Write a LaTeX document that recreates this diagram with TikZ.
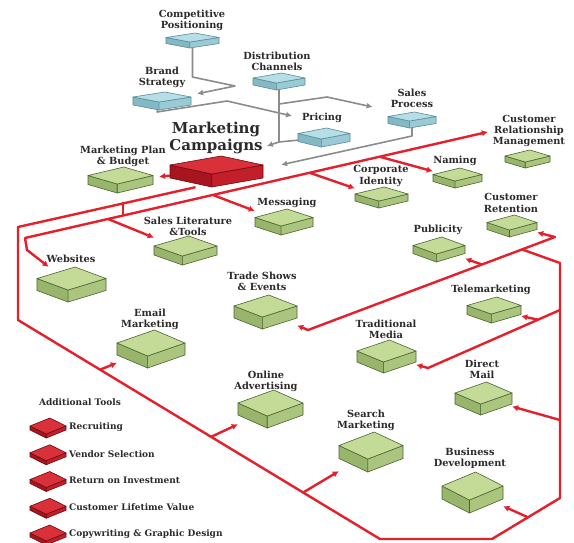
\documentclass[tikz,border=0pt]{standalone}
\usepackage{fontspec}
\setmainfont{DejaVu Serif}
\usetikzlibrary{arrows.meta}

\definecolor{linered}{HTML}{E3202B}
\definecolor{linegray}{HTML}{8C8C8C}
\definecolor{labelgray}{HTML}{2B2B2B}
\definecolor{greentopc}{HTML}{C4DB98}
\definecolor{greenfrontc}{HTML}{ABC57E}
\definecolor{greensidec}{HTML}{98B56B}
\definecolor{greenedge}{HTML}{4A6632}
\definecolor{bluetopc}{HTML}{B5DEE7}
\definecolor{bluefrontc}{HTML}{99CAD6}
\definecolor{bluesidec}{HTML}{84B8C5}
\definecolor{blueedge}{HTML}{5B8C97}
\definecolor{redtopc}{HTML}{D9303A}
\definecolor{redfrontc}{HTML}{C21F2A}
\definecolor{redsidec}{HTML}{A8151F}
\definecolor{rededge}{HTML}{6E0C12}

\tikzset{
  greentop/.style={fill=greentopc, draw=greenedge, line width=0.6pt, line join=round},
  greenfront/.style={fill=greenfrontc, draw=greenedge, line width=0.6pt, line join=round},
  greenside/.style={fill=greensidec, draw=greenedge, line width=0.6pt, line join=round},
  bluetop/.style={fill=bluetopc, draw=blueedge, line width=0.6pt, line join=round},
  bluefront/.style={fill=bluefrontc, draw=blueedge, line width=0.6pt, line join=round},
  blueside/.style={fill=bluesidec, draw=blueedge, line width=0.6pt, line join=round},
  redtop/.style={fill=redtopc, draw=rededge, line width=0.6pt, line join=round},
  redfront/.style={fill=redfrontc, draw=rededge, line width=0.6pt, line join=round},
  redside/.style={fill=redsidec, draw=rededge, line width=0.6pt, line join=round},
  lbl/.style={text=labelgray, align=center, inner sep=1pt},
  toollbl/.style={text=labelgray, inner sep=1pt, font=\bfseries\fontsize{9}{10}\selectfont},
  redline/.style={draw=linered, line width=2.4pt, line join=round},
  redarrow/.style={redline, -{Latex[length=6pt,width=6.5pt]}},
  grayline/.style={draw=linegray, line width=1.6pt, line join=round},
  grayarrow/.style={grayline, -{Latex[length=6pt,width=6pt]}}
}

% slab: name, top-left corner, width, top face depth, thickness, colour
\newcommand\slabbox[6]{%
  \begin{scope}[shift={(#2)}]
    \filldraw[#6side] (0,#4/2) -- (0.45*#3,#4) -- (0.45*#3,#4+#5) -- (0,#4/2+#5) -- cycle;
    \filldraw[#6front] (0.45*#3,#4) -- (#3,#4/2) -- (#3,#4/2+#5) -- (0.45*#3,#4+#5) -- cycle;
    \filldraw[#6top] (0,#4/2) -- (0.55*#3,0) -- (#3,#4/2) -- (0.45*#3,#4) -- cycle;
    \node[inner sep=0, minimum width=#3, minimum height=#4+#5] (#1) at (#3/2,{(#4+#5)/2}) {};
  \end{scope}%
}

\begin{document}
\begin{tikzpicture}[x=1pt, y=-1pt, font=\bfseries\fontsize{9.8}{11.2}\selectfont]
  \fill[white] (0,0) rectangle (574,542);
  \useasboundingbox (0,0) rectangle (574,542);

  % strategy boxes
  \slabbox{comp}{166,33}{53}{9}{6}{blue}
  \slabbox{brand}{133,92}{58}{10}{8}{blue}
  \slabbox{dist}{253,73}{52}{10}{7}{blue}
  \slabbox{pricing}{298,128}{52}{11}{8}{blue}
  \slabbox{sales}{388,112}{48}{9}{7}{blue}

  % campaigns
  \slabbox{mc}{170,156}{93}{18}{13}{red}

  % tools
  \slabbox{plan}{88,167}{65}{17}{9}{green}
  \slabbox{corporate}{355,187}{53}{14}{7}{green}
  \slabbox{naming}{433,168}{49}{13}{7}{green}
  \slabbox{crm}{505,150}{45}{12}{6}{green}
  \slabbox{messaging}{255,209}{58}{17}{9}{green}
  \slabbox{saleslit}{154,236}{63}{20}{9}{green}
  \slabbox{websites}{37,267}{69}{23}{12}{green}
  \slabbox{retention}{487,215}{50}{15}{7}{green}
  \slabbox{publicity}{413,237}{52}{17}{8}{green}
  \slabbox{trade}{234,295}{63}{22}{12}{green}
  \slabbox{tele}{467,297}{54}{17}{9}{green}
  \slabbox{traditional}{357,340}{59}{22}{11}{green}
  \slabbox{direct}{455,382}{57}{22}{11}{green}
  \slabbox{email}{117,330}{68}{26}{12}{green}
  \slabbox{online}{238,390}{65}{26}{12}{green}
  \slabbox{search}{339,432}{64}{27}{13}{green}
  \slabbox{business}{442,472}{61}{28}{13}{green}

  % labels
  \node[lbl] (compL) at (192,20) {Competitive\\Positioning};
  \node[lbl] (brandL) at (162,77) {Brand\\Strategy};
  \node[lbl] (distL) at (277,61) {Distribution\\Channels};
  \node[lbl] (pricingL) at (322,118) {Pricing};
  \node[lbl] (salesL) at (412,98) {Sales\\Process};
  \node[lbl, font=\bfseries\fontsize{15}{17}\selectfont] (mcL) at (216,138) {Marketing\\Campaigns};
  \node[lbl] (planL) at (123,156) {Marketing Plan\\\& Budget};
  \node[lbl] (corporateL) at (381,176) {Corporate\\Identity};
  \node[lbl] (namingL) at (455,161) {Naming};
  \node[lbl] (crmL) at (529,131) {Customer\\Relationship\\Management};
  \node[lbl] (messagingL) at (287,203) {Messaging};
  \node[lbl] (saleslitL) at (188,226) {Sales Literature\\\&Tools};
  \node[lbl] (websitesL) at (71,259) {Websites};
  \node[lbl] (retentionL) at (511,203) {Customer\\Retention};
  \node[lbl] (publicityL) at (438,230) {Publicity};
  \node[lbl] (tradeL) at (262,281) {Trade Shows\\\& Events};
  \node[lbl] (teleL) at (491,290) {Telemarketing};
  \node[lbl] (traditionalL) at (386,329) {Traditional\\Media};
  \node[lbl] (directL) at (482,369) {Direct\\Mail};
  \node[lbl] (emailL) at (150,319) {Email\\Marketing};
  \node[lbl] (onlineL) at (266,381) {Online\\Advertising};
  \node[lbl] (searchL) at (366,420) {Search\\Marketing};
  \node[lbl] (businessL) at (470,458) {Business\\Development};

  % additional tools
  \node[toollbl] (toolsL) at (80,402) {Additional Tools};
  \foreach \i/\txt in {1/Recruiting, 2/Vendor Selection, 3/Return on Investment,
                       4/Customer Lifetime Value, 5/Copywriting \& Graphic Design} {
    \slabbox{tool\i}{30,{418+26.75*(\i-1)}}{36}{16}{4}{red}
    \node[toollbl, anchor=west] (tool\i L) at (68,{427+26.75*(\i-1)}) {\txt};
  }

  % gray connectors
  \coordinate (g1) at (279,104);
  \coordinate (g2) at (279,142);
  \draw[grayarrow, shorten >=6pt] (comp) -- (192.5,77) -- (235,86) -- (brand);
  \draw[grayarrow, shorten >=9pt] (brand) -- (157,112) -- (227,101) -- (pricingL.west);
  \draw[grayarrow] (dist) -- (g2) -- ([xshift=3pt,yshift=-8pt]mcL.east);
  \draw[grayarrow] (g1) -- (327,97) -- ([xshift=-17pt,yshift=-9pt]salesL.west);
  \draw[grayline] (pricing) -- (g2);
  \draw[grayarrow] (sales) -- (412,136) -- ([xshift=18pt,yshift=-9pt]mc.north east);

  % red connectors
  \coordinate (aEmail) at (100,369.7);
  \coordinate (aOnline) at (211,436.9);
  \coordinate (aSearch) at (303,492.6);
  \coordinate (aBusiness) at (528,517.3);
  \coordinate (aDirect) at (560,420);
  \coordinate (aTele) at (560,310);
  \coordinate (aTele2) at (538,319.7);
  \coordinate (bSaleslit) at (108,219);
  \coordinate (bMessaging) at (213,195);
  \coordinate (bCorporate) at (310,172.9);
  \coordinate (bNaming) at (380,156.8);
  \coordinate (dPublicity) at (482,264.5);

  \draw[redline] ([xshift=-21pt]mc.south) -- (18,227) -- (18,320) -- (380,539)
        -- (492,539) -- (560,498) -- (560,263) -- (522,249.4);
  \draw[redline] (123,202) -- (123,215.5);
  \draw[redline, {Latex[length=6pt,width=6.5pt]}-{Latex[length=6pt,width=6.5pt]}, shorten >=4pt]
        (websites) -- (27,250) -- (25,238) -- (crmL.west);
  \draw[redline, {Latex[length=6pt,width=6.5pt]}-{Latex[length=6pt,width=6.5pt]}]
        (retention) -- (555,237) -- (308,330) -- (trade);
  \draw[redarrow, shorten >=6pt] (mc) -- (plan);
  \draw[redarrow] (bSaleslit) -- (saleslit);
  \draw[redarrow] (bMessaging) -- (messaging);
  \draw[redarrow] (bCorporate) -- (corporate);
  \draw[redarrow] (bNaming) -- (naming);
  \draw[redarrow] (dPublicity) -- (publicity);
  \draw[redarrow] (aEmail) -- (email);
  \draw[redarrow] (aOnline) -- (online);
  \draw[redarrow] (aSearch) -- (search);
  \draw[redarrow] (aBusiness) -- (business);
  \draw[redarrow] (aDirect) -- (direct);
  \draw[redarrow] (aTele) -- (aTele2) -- (428,368) -- (traditional);
  \draw[redarrow] (aTele2) -- (tele);
\end{tikzpicture}
\end{document}
